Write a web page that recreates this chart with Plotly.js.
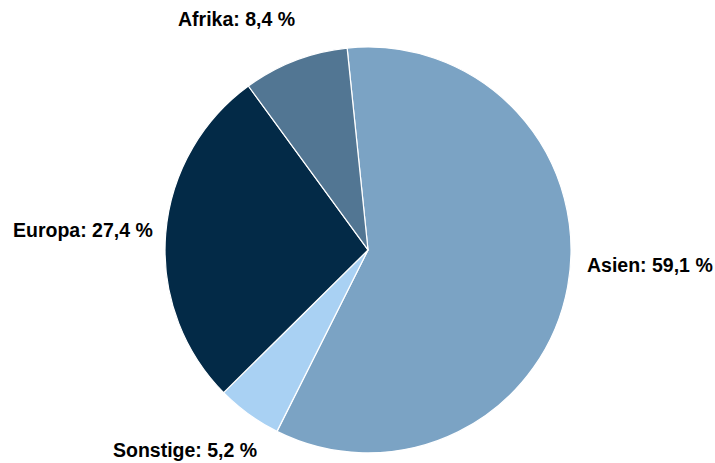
<!DOCTYPE html>
<html>
<head>
<meta charset="utf-8">
<script src="https://cdn.plot.ly/plotly-3.0.1.min.js"></script>
<style>html,body{margin:0;padding:0;background:#fff;}#chart{width:715px;height:463px;}</style>
</head>
<body>
<div id="chart"></div>
<script>
const regions = ["Asien", "Sonstige", "Europa", "Afrika"];
const shares = [59.1, 5.2, 27.4, 8.4];
const colors = ["#7ba3c4", "#a9d1f3", "#032a47", "#527693"];
// label anchor positions (paper fractions), layout only
const labelX = [0.9091, 0.2594, 0.1154, 0.3308];
const labelY = [0.4266, 0.0281, 0.5032, 0.959];

const labelFont = {family: "Liberation Sans, Arial, sans-serif", size: 19.5, color: "#000000", weight: 700};

const data = [{
  type: "pie",
  labels: regions,
  values: shares,
  sort: false,
  direction: "clockwise",
  rotation: -5.9,
  marker: {colors: colors, line: {color: "#ffffff", width: 1.2}},
  textinfo: "none",
  showlegend: false,
  hoverinfo: "none",
  domain: {x: [0.2308, 0.7986], y: [0.0217, 0.8985]}
}];

const annotations = regions.map((r, i) => ({
  text: r + ": " + shares[i].toFixed(1).replace(".", ",") + " %",
  xref: "paper", yref: "paper",
  x: labelX[i], y: labelY[i],
  xanchor: "center", yanchor: "middle",
  showarrow: false,
  font: labelFont
}));

const layout = {
  width: 715,
  height: 463,
  margin: {l: 0, r: 0, t: 0, b: 0},
  paper_bgcolor: "#ffffff",
  showlegend: false,
  annotations: annotations
};

Plotly.newPlot("chart", data, layout, {displayModeBar: false, staticPlot: true});
</script>
</body>
</html>
